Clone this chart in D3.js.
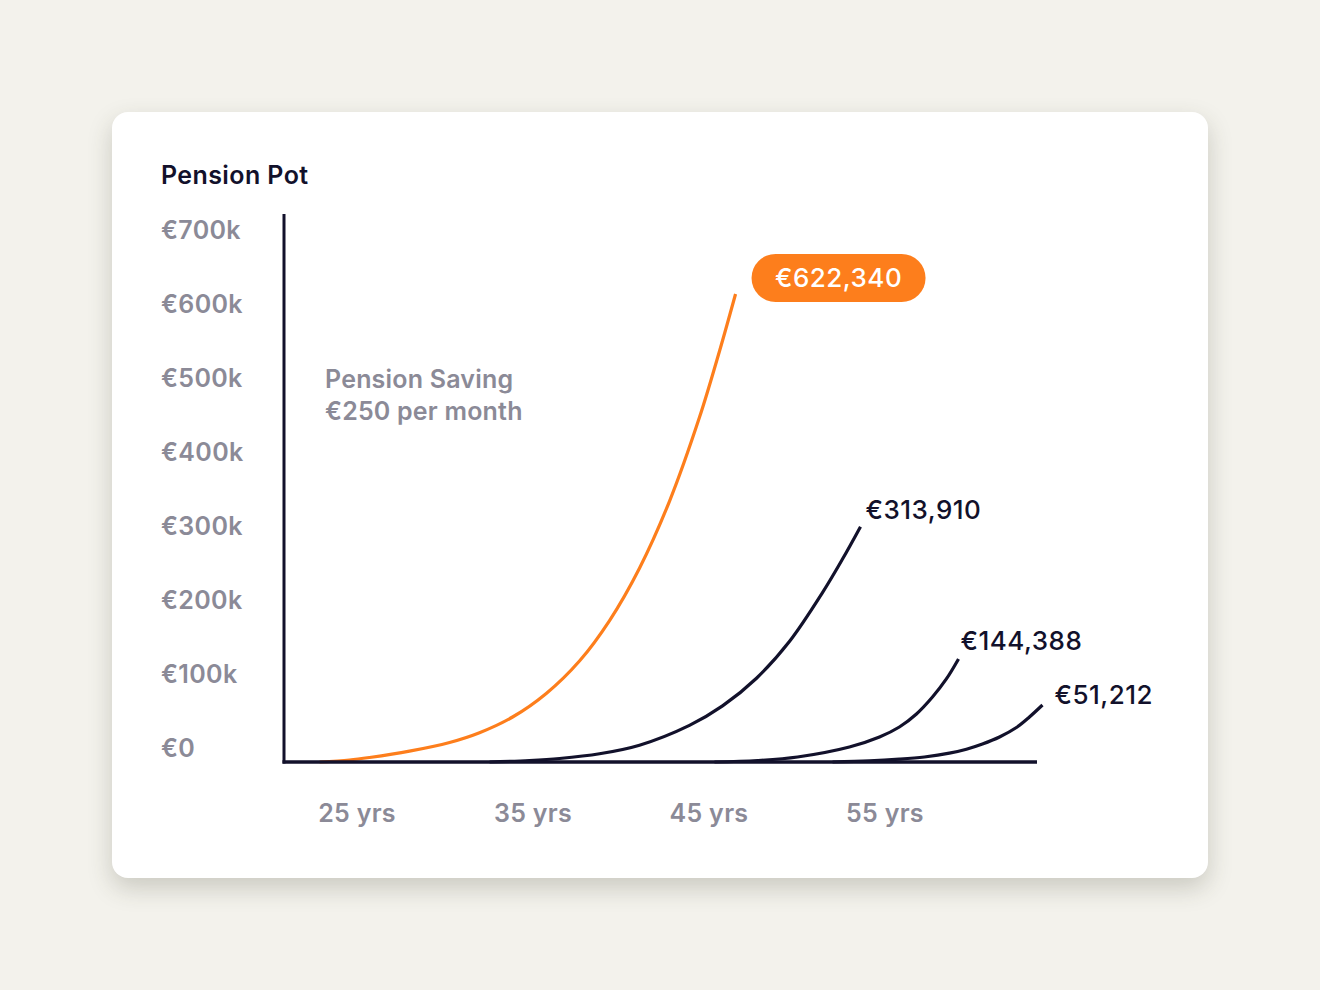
<!DOCTYPE html>
<html>
<head>
<meta charset="utf-8">
<script src="https://cdn.jsdelivr.net/npm/d3@7"></script>
<style>
  html, body { margin: 0; padding: 0; }
  body { width: 1320px; height: 990px; background: #f3f2ec; position: relative; overflow: hidden; font-family: Inter, "Noto Sans", sans-serif; }
  #card { position: absolute; left: 112px; top: 112px; width: 1096px; height: 766px; background: #ffffff; border-radius: 16px; box-shadow: 0 10px 24px rgba(60,60,40,0.22); }
  svg { position: absolute; left: 0; top: 0; }
</style>
</head>
<body>
<div id="card"></div>
<svg id="chart" width="1320" height="990"></svg>
<script>
// ---- data (age in years, pot value in euros) ----
const yTickValues = [0, 100000, 200000, 300000, 400000, 500000, 600000, 700000];
const yTickLabels = ["€0", "€100k", "€200k", "€300k", "€400k", "€500k", "€600k", "€700k"];
const xTickValues = [25, 35, 45, 55];
const xTickLabels = ["25 yrs", "35 yrs", "45 yrs", "55 yrs"];

const seriesNames = ["Start at 25", "Start at 35", "Start at 45", "Start at 55"];
const endLabels = ["€622,340", "€313,910", "€144,388", "€51,212"];

const ages25 = [22.87, 24.57, 25.71, 27.98, 30.26, 31.96, 33.84, 35.77, 37.64, 39.35, 41.05, 42.76, 44.46, 45.60, 46.51];
const pot25  = [0, 2700, 6100, 14700, 26400, 39600, 60800, 93000, 136500, 191200, 261900, 352600, 465700, 555400, 632400];

const ages35 = [32.53, 34.80, 36.51, 38.78, 41.05, 43.89, 45.77, 47.70, 49.57, 51.45, 52.58, 53.61];
const pot35  = [0, 2000, 4700, 11100, 22700, 49500, 75800, 113200, 162800, 228900, 273900, 318000];

const ages45 = [45.31, 47.76, 50.03, 52.98, 54.69, 55.82, 56.79, 57.70, 58.49, 59.18];
const pot45  = [0, 2000, 6800, 20300, 33800, 47300, 64900, 87800, 112200, 139200];

const ages55 = [52.02, 54.12, 55.82, 57.24, 58.66, 59.63, 60.54, 61.51, 62.47, 63.21, 63.95];
const pot55  = [0, 1400, 3800, 6800, 11900, 17300, 24300, 33800, 46600, 60800, 77000];

const seriesAges = [ages25, ages35, ages45, ages55];
const seriesPots = [pot25, pot35, pot45, pot55];

// ---- styles ----
const ORANGE = "#fd7e1c";
const DARK = "#12112b";
const GREY = "#8b8a97";

const svg = d3.select("#chart");

const x = d3.scaleLinear().domain([20.85, 63.64]).range([284, 1037]);
const y = d3.scaleLinear().domain([0, 740500]).range([762, 214]);

// title
svg.append("text").attr("x", 161).attr("y", 184)
  .attr("font-size", 25).attr("font-weight", 600).attr("fill", DARK)
  .attr("letter-spacing", 0.4)
  .text("Pension Pot");

// y tick labels
svg.append("g").selectAll("text").data(yTickValues).join("text")
  .attr("x", 161).attr("y", d => y(d) - 5)
  .attr("font-size", 25).attr("font-weight", 600).attr("fill", GREY)
  .attr("letter-spacing", 0.35)
  .text((d, i) => yTickLabels[i]);

// x tick labels
svg.append("g").selectAll("text").data(xTickValues).join("text")
  .attr("x", d => x(d)).attr("y", 822)
  .attr("text-anchor", "middle")
  .attr("font-size", 25).attr("font-weight", 600).attr("fill", GREY)
  .attr("letter-spacing", 0.3)
  .text((d, i) => xTickLabels[i]);

// annotation
const ann = svg.append("text").attr("font-size", 25).attr("font-weight", 600).attr("fill", GREY)
  .attr("letter-spacing", 0.2);
ann.append("tspan").attr("x", 325).attr("y", 388).text("Pension Saving");
ann.append("tspan").attr("x", 325).attr("y", 420).text("€250 per month");

// lines
const line = d3.line().x(d => x(d[0])).y(d => y(d[1])).curve(d3.curveCatmullRom.alpha(0.5));
const series = seriesAges.map((ages, i) => ({
  name: seriesNames[i],
  label: endLabels[i],
  points: ages.map((a, j) => [a, seriesPots[i][j]])
}));

svg.append("g").selectAll("path").data(series).join("path")
  .attr("d", d => line(d.points))
  .attr("fill", "none")
  .attr("stroke", (d, i) => i === 0 ? ORANGE : DARK)
  .attr("stroke-width", 3.2);

// axes
svg.append("line").attr("x1", x.range()[0]).attr("x2", x.range()[0])
  .attr("y1", y.range()[1]).attr("y2", y(0) + 1.5)
  .attr("stroke", DARK).attr("stroke-width", 3);
svg.append("line").attr("x1", x.range()[0] - 1.5).attr("x2", x.range()[1])
  .attr("y1", y(0)).attr("y2", y(0))
  .attr("stroke", DARK).attr("stroke-width", 3.5);

// end labels
const last = s => s.points[s.points.length - 1];
// orange badge
const s0 = series[0];
const bx = x(last(s0)[0]) + 16, byc = y(last(s0)[1]) - 16;
svg.append("rect").attr("x", bx).attr("y", byc - 24).attr("width", 174).attr("height", 48)
  .attr("rx", 24).attr("fill", ORANGE);
svg.append("text").attr("x", bx + 87).attr("y", byc + 9)
  .attr("text-anchor", "middle").attr("font-size", 26).attr("font-weight", 500).attr("fill", "#ffffff")
  .attr("letter-spacing", 0.5)
  .text(s0.label);

const offsets = [null, [5, -8], [2, -9], [12, -1]];
series.slice(1).forEach((s, k) => {
  const i = k + 1;
  const p = last(s);
  svg.append("text").attr("x", x(p[0]) + offsets[i][0]).attr("y", y(p[1]) + offsets[i][1])
    .attr("font-size", 26).attr("font-weight", 500).attr("fill", DARK)
    .attr("letter-spacing", 0.5)
    .text(s.label);
});
</script>
</body>
</html>
